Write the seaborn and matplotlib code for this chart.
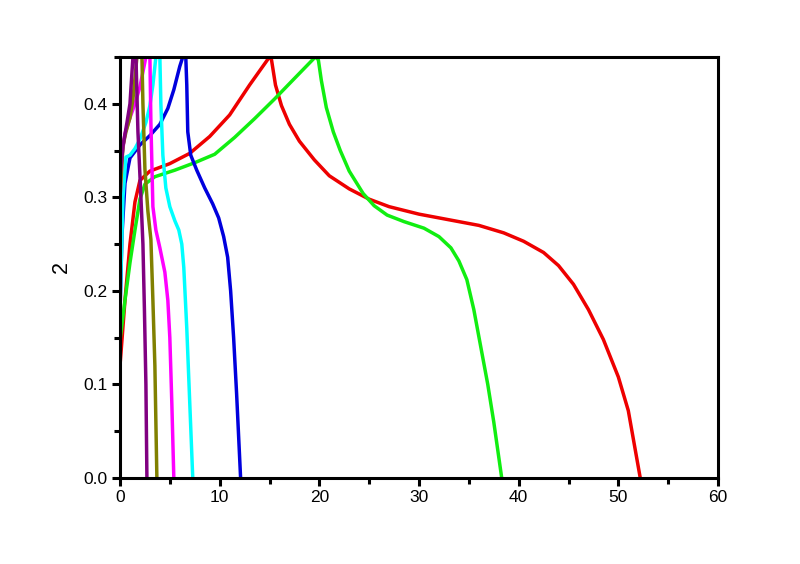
import numpy as np
import pandas as pd
import matplotlib
matplotlib.use("Agg")
import matplotlib.pyplot as plt
import seaborn as sns
from matplotlib.ticker import MultipleLocator

# charge / discharge curves, x then y for each series
red_x = [0.0, 0.5, 1.0, 1.5, 2.0, 3.0, 5.0, 7.0, 9.0, 11.0, 13.0, 15.0,
         15.2, 15.6, 16.2, 17.0, 18.0, 19.5, 21.0, 23.0, 25.0, 27.0, 30.0, 33.0, 36.0,
         38.5, 40.5, 42.5, 44.0, 45.5, 47.0, 48.5, 50.0, 51.0, 52.2]
red_y = [0.120, 0.190, 0.250, 0.295, 0.318, 0.328, 0.336, 0.347, 0.365, 0.388, 0.420, 0.450,
         0.447, 0.420, 0.398, 0.378, 0.360, 0.340, 0.323, 0.309, 0.298, 0.290, 0.282, 0.276, 0.270,
         0.262, 0.253, 0.241, 0.227, 0.207, 0.180, 0.148, 0.108, 0.072, 0.0]

green_x = [0.0, 0.5, 1.0, 1.5, 2.0, 2.5, 3.5, 5.5, 7.5, 9.5, 11.5, 13.5, 15.5, 17.5, 19.6,
           19.9, 20.2, 20.7, 21.4, 22.1, 23.0, 24.4, 25.5, 26.8, 28.5, 30.5, 32.0, 33.2,
           34.0, 34.8, 35.5, 36.2, 36.9, 37.5, 38.3]
green_y = [0.147, 0.190, 0.230, 0.265, 0.298, 0.314, 0.322, 0.329, 0.337, 0.346, 0.364, 0.384, 0.405, 0.427, 0.450,
           0.447, 0.425, 0.396, 0.370, 0.350, 0.328, 0.304, 0.291, 0.281, 0.274, 0.267, 0.258, 0.246,
           0.232, 0.212, 0.180, 0.140, 0.100, 0.060, 0.0]

blue_x = [0.0, 0.2, 0.5, 1.0, 2.0, 3.0, 4.0, 4.8, 5.4, 6.0, 6.3,
          6.6, 6.7, 6.8, 7.1, 7.7, 8.5, 9.3, 9.9, 10.4, 10.8, 11.1, 11.4, 11.7, 12.1]
blue_y = [0.176, 0.260, 0.315, 0.342, 0.356, 0.366, 0.378, 0.395, 0.415, 0.440, 0.450,
          0.450, 0.420, 0.370, 0.345, 0.329, 0.310, 0.293, 0.278, 0.258, 0.236, 0.200, 0.150, 0.090, 0.0]

cyan_x = [0.0, 0.3, 0.6, 1.0, 1.5, 2.0, 2.6, 3.0, 3.3, 3.6,
          4.0, 4.1, 4.3, 4.6, 5.0, 5.5, 5.9, 6.2, 6.4, 6.7, 7.0, 7.3]
cyan_y = [0.182, 0.300, 0.343, 0.345, 0.352, 0.362, 0.380, 0.398, 0.420, 0.450,
          0.450, 0.400, 0.345, 0.310, 0.290, 0.275, 0.265, 0.250, 0.225, 0.160, 0.080, 0.0]

magenta_x = [0.0, 0.2, 0.5, 1.0, 1.5, 2.0, 2.6,
             3.0, 3.1, 3.3, 3.6, 4.0, 4.5, 4.8, 5.0, 5.2, 5.4]
magenta_y = [0.296, 0.345, 0.368, 0.385, 0.400, 0.418, 0.450,
             0.450, 0.380, 0.290, 0.265, 0.246, 0.220, 0.190, 0.150, 0.080, 0.0]

olive_x = [0.0, 0.3, 0.6, 1.0, 1.3, 1.7, 2.2, 2.3, 2.5, 2.8, 3.1, 3.3, 3.5, 3.7]
olive_y = [0.300, 0.355, 0.370, 0.385, 0.405, 0.450, 0.450, 0.400, 0.330, 0.285, 0.255, 0.190, 0.120, 0.0]

purple_x = [0.0, 0.3, 0.7, 1.0, 1.3, 1.6, 1.8, 2.1, 2.3, 2.45, 2.6, 2.7]
purple_y = [0.320, 0.355, 0.380, 0.400, 0.450, 0.450, 0.370, 0.300, 0.250, 0.180, 0.100, 0.0]

series = {
    "red": (red_x, red_y),
    "green": (green_x, green_y),
    "blue": (blue_x, blue_y),
    "cyan": (cyan_x, cyan_y),
    "magenta": (magenta_x, magenta_y),
    "olive": (olive_x, olive_y),
    "purple": (purple_x, purple_y),
}
colors = {
    "red": "#EE0000",
    "green": "#11EE11",
    "blue": "#0000DD",
    "cyan": "#00FFFF",
    "magenta": "#FF00FF",
    "olive": "#808000",
    "purple": "#800080",
}

frames = []
for name, (xs, ys) in series.items():
    frames.append(pd.DataFrame({"x": xs, "y": ys, "curve": name}))
df = pd.concat(frames, ignore_index=True)

sns.set_style("ticks")
plt.rcParams["font.family"] = ["Liberation Sans", "DejaVu Sans"]

fig = plt.figure(figsize=(8, 5.64), dpi=100)
ax = fig.add_axes([0.15, 0.1525, 0.7475, 0.7465])

sns.lineplot(data=df, x="x", y="y", hue="curve", palette=colors, sort=False,
             estimator=None, units="curve", linewidth=2.5, legend=False, ax=ax)

ax.set_xlim(0, 60)
ax.set_ylim(0, 0.45)
ax.xaxis.set_major_locator(MultipleLocator(10))
ax.xaxis.set_minor_locator(MultipleLocator(5))
ax.yaxis.set_major_locator(MultipleLocator(0.1))
ax.yaxis.set_minor_locator(MultipleLocator(0.05))
ax.yaxis.set_major_formatter(plt.FormatStrFormatter("%.1f"))

for sp in ax.spines.values():
    sp.set_linewidth(2.2)
    sp.set_color("black")
ax.tick_params(which="major", direction="out", length=6, width=2.2, labelsize=12.5,
               top=False, right=False, pad=3, colors="black")
ax.tick_params(which="minor", direction="out", length=4, width=2.2, top=False, right=False,
               colors="black")

ax.set_xlabel("")
ax.set_ylabel("2", fontsize=15.5, color="black")
ax.yaxis.set_label_coords(-0.08, 0.5)

fig.savefig("out.png", dpi=100)
